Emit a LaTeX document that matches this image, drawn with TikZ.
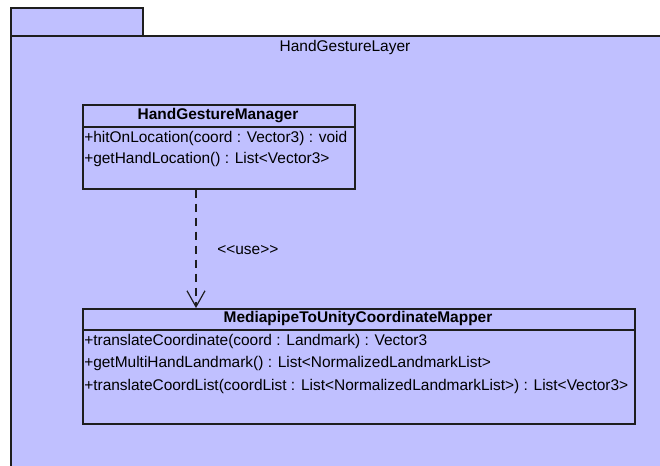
\documentclass[tikz,border=0pt]{standalone}
\usepackage{fontspec}
\setmainfont{Liberation Sans}
\usetikzlibrary{arrows.meta}
\definecolor{pkgfill}{RGB}{192,192,255}
\definecolor{edge}{RGB}{30,30,30}
\tikzset{
  pkg/.style={draw=edge, fill=pkgfill, line width=1.2pt},
  classbox/.style={draw=edge, line width=1.2pt, rectangle, inner sep=0pt},
  divider/.style={draw=edge, line width=1.2pt},
  member/.style={anchor=mid west, inner sep=0pt, font=\fontsize{11.6}{14}\selectfont},
  classtitle/.style={anchor=mid, inner sep=0pt, font=\fontsize{11.6}{14}\selectfont\bfseries},
  pkgtitle/.style={anchor=mid, inner sep=0pt, font=\fontsize{11.6}{14}\selectfont},
  uselink/.style={draw=edge, line width=0.9pt, dash pattern=on 6pt off 4.5pt,
    -{Straight Barb[length=12pt, width=13.5pt, line width=0.9pt]}},
}
\begin{document}
\begin{tikzpicture}[x=0.75pt, y=-0.75pt]
\useasboundingbox (0,0) rectangle (660,466);
\clip (0,0) rectangle (660,466);
\fill[white] (0,0) rectangle (660,466);
% package tab and body
\path[pkg] (11,8) rectangle (143,36);
\path[pkg] (11,36) rectangle (680,490);
\node[pkgtitle] (pkgname) at (345,48) {HandGestureLayer};
% HandGestureManager
\node[classbox, minimum width=272*0.75pt, minimum height=84*0.75pt, anchor=north west] (mgr) at (82,104) {};
\draw[divider] (82,127) -- (354,127);
\node[classtitle] (mgrtitle) at (218,116) {HandGestureManager};
\node[member] (m1) at (84,139) {+hitOnLocation(coord : Vector3) : void};
\node[member] (m2) at (84,160) {+getHandLocation() : List{<}Vector3{>}};
% MediapipeToUnityCoordinateMapper
\node[classbox, minimum width=552*0.75pt, minimum height=115*0.75pt, anchor=north west] (map) at (82,308) {};
\draw[divider] (82,330) -- (634,330);
\node[classtitle] (maptitle) at (358,319) {MediapipeToUnityCoordinateMapper};
\node[member] (p1) at (84,342) {+translateCoordinate(coord : Landmark) : Vector3};
\node[member] (p2) at (84,364) {+getMultiHandLandmark() : List{<}NormalizedLandmarkList{>}};
\node[member] (p3) at (84,387) {+translateCoordList(coordList : List{<}NormalizedLandmarkList{>}) : List{<}Vector3{>}};
% dependency
\coordinate (ax) at (196,0);
\draw[uselink] (mgr.south -| ax) -- (map.north -| ax);
\node[member] (uselbl) at (217,251) {{<}{<}use{>}{>}};
\end{tikzpicture}
\end{document}
